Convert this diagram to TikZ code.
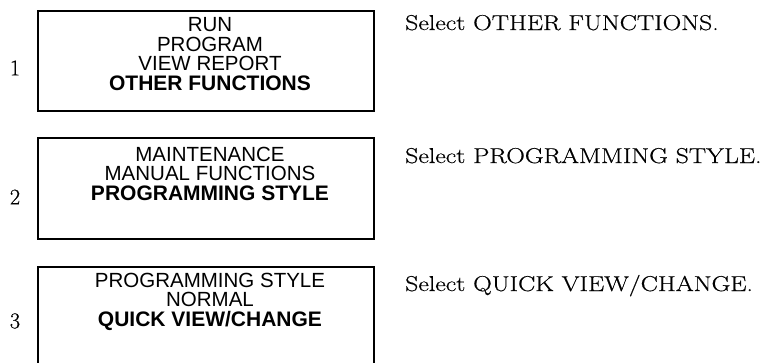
\documentclass[tikz,border=0pt]{standalone}
\usepackage{fontspec}
\usepackage{graphicx}
\newfontfamily\boxfont{Liberation Sans}
\newfontfamily\notefont{Latin Modern Roman}[FakeBold=0.5]
\tikzset{
  screen/.style={draw=black, line width=2.2pt, inner sep=0pt, anchor=north west},
  screentext/.style={font=\boxfont\fontsize{20.5}{19.5}\selectfont, align=center, inner sep=0pt, anchor=north},
  stepnum/.style={font=\notefont\fontsize{22.5}{24}\selectfont, inner sep=0pt},
  note/.style={font=\notefont\fontsize{21.5}{24}\selectfont, inner sep=0pt, anchor=base west},
}
\newcommand{\hilite}[1]{{\fontsize{21}{19.5}\selectfont\bfseries #1}}
\begin{document}
\begin{tikzpicture}[x=1pt, y=-1pt]
\useasboundingbox (0,0) rectangle (770,362);
% screens
\node[screen, minimum width=336pt, minimum height=100pt] (s1) at (37,10) {};
\node[screen, minimum width=336pt, minimum height=101pt] (s2) at (37,137) {};
\node[screen, minimum width=336pt, minimum height=101pt] (s3) at (37,266) {};
% screen texts
\node[screentext] (t1) at (210,17.5) {RUN\\PROGRAM\\VIEW REPORT\\\hilite{OTHER FUNCTIONS}};
\node[screentext] (t2) at (210,146.5) {MAINTENANCE\\MANUAL FUNCTIONS\\\hilite{PROGRAMMING STYLE}};
\node[screentext] (t3) at (210,272.5) {PROGRAMMING STYLE\\NORMAL\\\hilite{QUICK VIEW/CHANGE}};
% step numbers
\node[stepnum] (n1) at (15,68) {1};
\node[stepnum] (n2) at (15,197) {2};
\node[stepnum] (n3) at (15,321) {3};
% notes
\node[note] (d1) at (405,30) {\scalebox{1.2}[1]{Select OTHER FUNCTIONS.}};
\node[note] (d2) at (405,163) {\scalebox{1.2}[1]{Select PROGRAMMING STYLE.}};
\node[note] (d3) at (405,291) {\scalebox{1.2}[1]{Select QUICK VIEW/CHANGE.}};
\end{tikzpicture}
\end{document}
